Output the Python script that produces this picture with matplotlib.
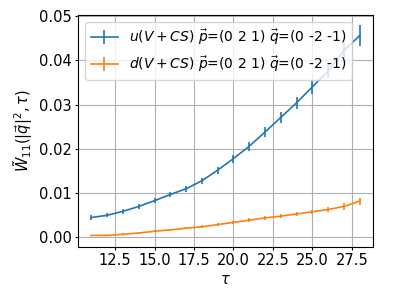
import matplotlib
matplotlib.use("Agg")
import matplotlib.pyplot as plt
from matplotlib.ticker import MultipleLocator

tau = [11, 12, 13, 14, 15, 16, 17, 18, 19, 20, 21, 22, 23, 24, 25, 26, 27, 28]
u_val = [0.0045, 0.0050, 0.0059, 0.0070, 0.0083, 0.0097, 0.0110, 0.0128, 0.0152, 0.0178,
         0.0206, 0.0238, 0.0271, 0.0304, 0.0340, 0.0376, 0.0422, 0.0456]
u_err = [0.0005, 0.0005, 0.0005, 0.0005, 0.0006, 0.0006, 0.0007, 0.0007, 0.0008, 0.0009,
         0.0010, 0.0011, 0.0012, 0.0014, 0.0015, 0.0017, 0.0020, 0.0023]
d_val = [0.00045, 0.00045, 0.0007, 0.0010, 0.0014, 0.0017, 0.0021, 0.0024, 0.0029, 0.0034,
         0.0039, 0.0044, 0.0048, 0.0053, 0.0058, 0.0063, 0.0070, 0.0082]
d_err = [0.0002, 0.0002, 0.0002, 0.0002, 0.0002, 0.0002, 0.0003, 0.0003, 0.0003, 0.0003,
         0.0004, 0.0004, 0.0004, 0.0005, 0.0005, 0.0006, 0.0007, 0.0008]

plt.rcParams['font.size'] = 10.5
plt.rcParams['xtick.major.size'] = 2.5
plt.rcParams['ytick.major.size'] = 2.5
plt.rcParams['xtick.major.pad'] = 2.2
plt.rcParams['ytick.major.pad'] = 2.2
plt.rcParams['axes.labelpad'] = 2.5

fig = plt.figure(figsize=(3.94, 2.96), dpi=100)
ax = fig.add_axes([0.198, 0.166, 0.749, 0.784])
ax.errorbar(tau, u_val, yerr=u_err, lw=1.2, label=r'$u(V+CS)$ $\vec{p}$=(0 2 1) $\vec{q}$=(0 -2 -1)')
ax.errorbar(tau, d_val, yerr=d_err, lw=1.2, label=r'$d(V+CS)$ $\vec{p}$=(0 2 1) $\vec{q}$=(0 -2 -1)')
ax.xaxis.set_major_locator(MultipleLocator(2.5))
ax.set_xlabel(r'$\tau$')
ax.set_ylabel(r'$\tilde{W}_{11}(|\vec{q}|^2,\tau)$')
ax.grid(True)
ax.legend(loc='upper left', fontsize=10, handlelength=2.0, labelspacing=0.55)

fig.savefig('out.png', dpi=100)
